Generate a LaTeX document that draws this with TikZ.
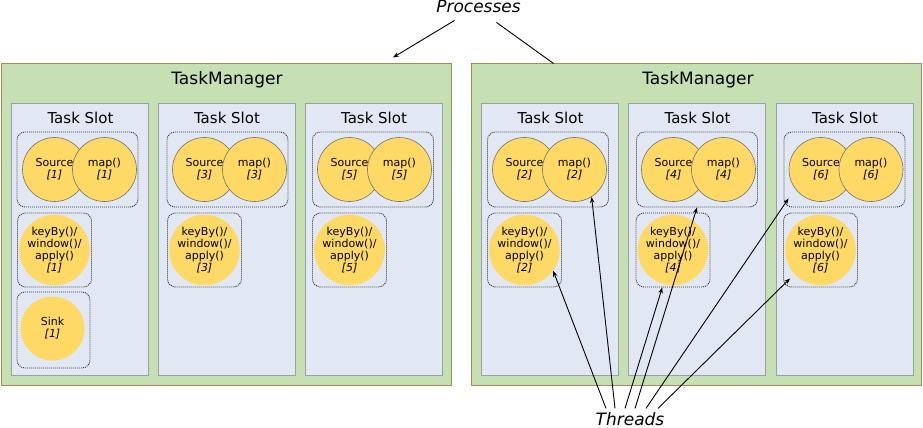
\documentclass[tikz,border=0pt]{standalone}
\usepackage{fontspec}
\setmainfont{DejaVu Sans}
\usetikzlibrary{arrows.meta}
\definecolor{tmgreen}{HTML}{C6E0B4}
\definecolor{tmbrown}{HTML}{A8895A}
\definecolor{slotblue}{HTML}{E2E8F3}
\definecolor{slotgrey}{HTML}{9AA0A8}
\definecolor{opyellow}{HTML}{FFD966}
\definecolor{opgrey}{HTML}{707070}
\tikzstyle{manager}=[draw=tmbrown, fill=tmgreen, line width=1pt, inner sep=0pt, minimum width=450pt, minimum height=321pt]
\tikzstyle{slot}=[draw=slotgrey, fill=slotblue, line width=1pt, inner sep=0pt, minimum width=137pt, minimum height=272pt]
\tikzstyle{mgrtitle}=[inner sep=0pt, font=\fontsize{17}{20}\selectfont]
\tikzstyle{slottitle}=[inner sep=0pt, font=\fontsize{15}{18}\selectfont]
\tikzstyle{opgroup}=[draw=black!80, dash pattern=on 1pt off 1pt, line width=0.9pt, rounded corners=8pt, inner sep=0pt]
\tikzstyle{pairgroup}=[opgroup, minimum width=121pt, minimum height=75pt]
\tikzstyle{solegroup}=[opgroup, minimum width=74pt, minimum height=74pt]
\tikzstyle{op}=[circle, fill=opyellow, inner sep=0pt, minimum size=64pt, align=center, font=\fontsize{11}{12}\selectfont]
\tikzstyle{bop}=[op, draw=opgrey, line width=0.6pt]
\tikzstyle{note}=[inner sep=2pt, font=\fontsize{17}{20}\selectfont\itshape]
\tikzstyle{pointer}=[-{Stealth[length=6pt, width=4.5pt]}, line width=0.9pt]

\begin{document}
\begin{tikzpicture}[x=1pt, y=-1pt]
        \useasboundingbox (0,0) rectangle (923,428);
        \node[manager] (tm1) at (226.5,224.5) {};
        \node[manager] (tm2) at (696,224.5) {};
        \node[mgrtitle] (tm1t) at (227,80) {TaskManager};
        \node[mgrtitle] (tm2t) at (698,80) {TaskManager};

        \node[slot] (slot1) at (79.5,239) {};
        \node[slot] (slot3) at (226.5,239) {};
        \node[slot] (slot5) at (373.5,239) {};
        \node[slot] (slot2) at (550,239) {};
        \node[slot] (slot4) at (697,239) {};
        \node[slot] (slot6) at (844.5,239) {};
        \node[slottitle] at (80.5,118) {Task Slot};
        \node[slottitle] at (227,118) {Task Slot};
        \node[slottitle] at (374,118) {Task Slot};
        \node[slottitle] at (550.5,118) {Task Slot};
        \node[slottitle] at (697.5,118) {Task Slot};
        \node[slottitle] at (845,118) {Task Slot};

        \node[pairgroup] (pair1) at (77.5,169.5) {};
        \node[bop] (src1) at (54.5,169.5) {Source\\\textit{[1]}};
        \node[bop] (map1) at (104.5,169.5) {map()\\\textit{[1]}};
        \node[solegroup] (kgrp1) at (54.5,250) {};
        \node[op] (kb1) at (54.5,250) {keyBy()/\\window()/\\apply()\\\textit{[1]}};
        \node[opgroup, minimum width=73pt, minimum height=76pt] (sgrp1) at (53.5,330) {};
        \node[op] (sink1) at (52.5,328.5) {Sink\\\textit{[1]}};

        \node[pairgroup] (pair3) at (227.5,169.5) {};
        \node[bop] (src3) at (204.5,169.5) {Source\\\textit{[3]}};
        \node[bop] (map3) at (254.5,169.5) {map()\\\textit{[3]}};
        \node[solegroup] (kgrp3) at (204.5,250) {};
        \node[op] (kb3) at (204.5,250) {keyBy()/\\window()/\\apply()\\\textit{[3]}};

        \node[pairgroup] (pair5) at (373,169.5) {};
        \node[bop] (src5) at (349.5,169.5) {Source\\\textit{[5]}};
        \node[bop] (map5) at (399.5,169.5) {map()\\\textit{[5]}};
        \node[solegroup] (kgrp5) at (349.5,250) {};
        \node[op] (kb5) at (349.5,250) {keyBy()/\\window()/\\apply()\\\textit{[5]}};

        \node[pairgroup] (pair2) at (548,169.5) {};
        \node[bop] (src2) at (524.5,169.5) {Source\\\textit{[2]}};
        \node[bop] (map2) at (574.5,169.5) {map()\\\textit{[2]}};
        \node[solegroup] (kgrp2) at (524.5,250) {};
        \node[op] (kb2) at (524.5,250) {keyBy()/\\window()/\\apply()\\\textit{[2]}};

        \node[pairgroup] (pair4) at (697,169.5) {};
        \node[bop] (src4) at (673.5,169.5) {Source\\\textit{[4]}};
        \node[bop] (map4) at (723.5,169.5) {map()\\\textit{[4]}};
        \node[solegroup] (kgrp4) at (673,250) {};
        \node[op] (kb4) at (673,250) {keyBy()/\\window()/\\apply()\\\textit{[4]}};

        \node[pairgroup] (pair6) at (844.5,169.5) {};
        \node[bop] (src6) at (821,169.5) {Source\\\textit{[6]}};
        \node[bop] (map6) at (871,169.5) {map()\\\textit{[6]}};
        \node[solegroup] (kgrp6) at (820.5,250) {};
        \node[op] (kb6) at (820.5,250) {keyBy()/\\window()/\\apply()\\\textit{[6]}};

        \node[note, anchor=base] (proc) at (478.5,13) {Processes};
        \node[note, anchor=base] (thr) at (630,425.5) {Threads};
        \draw[pointer] ([xshift=-24pt, yshift=-5pt]proc.south) -- ([xshift=-59pt, yshift=6pt]tm1.north east);
        \draw[line width=0.9pt] ([xshift=18pt, yshift=-7pt]proc.south) -- ([xshift=83pt]tm2.north west);

        \draw[pointer] ([xshift=-24pt, yshift=2pt]thr.north) -- (kb2.-36);
        \draw[pointer] ([xshift=-15pt, yshift=2pt]thr.north) -- (map2.-58);
        \draw[pointer] ([xshift=-5pt, yshift=2pt]thr.north) -- (kgrp4.-106);
        \draw[pointer] ([xshift=5pt, yshift=2pt]thr.north) -- (pair4.south);
        \draw[pointer] ([xshift=16pt, yshift=2pt]thr.north) -- ([xshift=5pt, yshift=9pt]pair6.south west);
        \draw[pointer] ([xshift=28pt, yshift=2pt]thr.north) -- ([xshift=7pt, yshift=9pt]kgrp6.south west);
    \end{tikzpicture}
\end{document}
